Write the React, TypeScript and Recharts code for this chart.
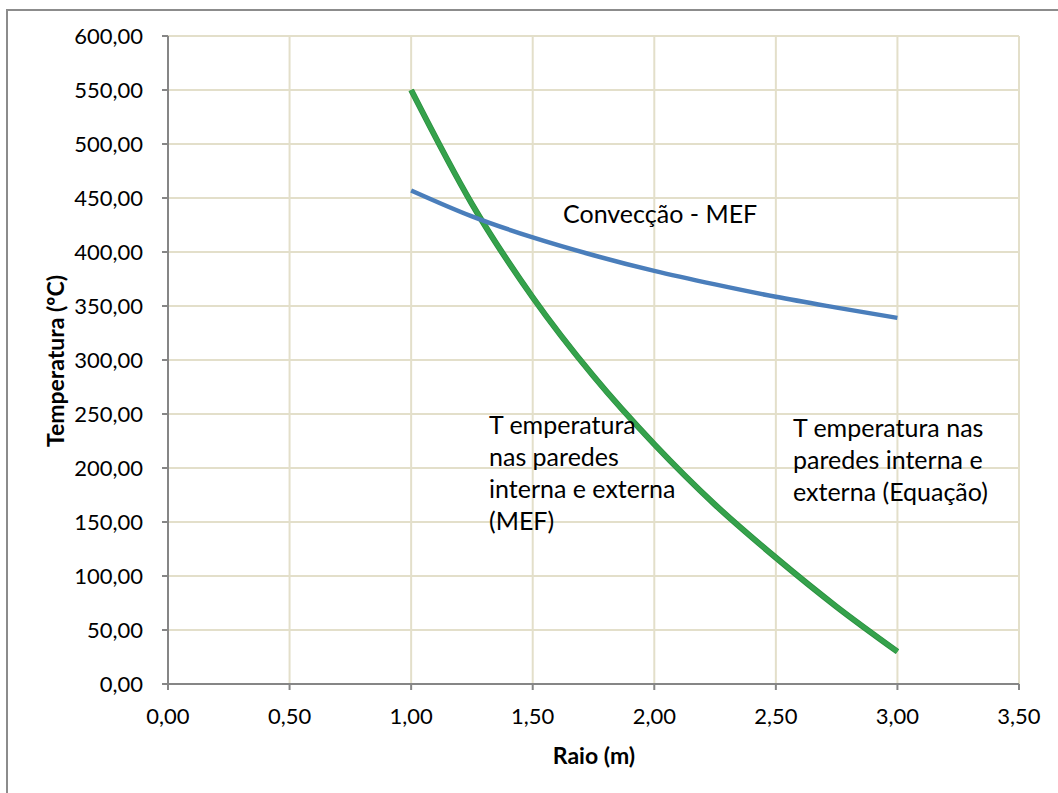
import { LineChart, Line, XAxis, YAxis, CartesianGrid } from 'recharts';

const raio = [1.0, 1.25, 1.5, 1.75, 2.0, 2.25, 2.5, 2.75, 3.0];
const conveccaoMef = [457, 433, 413.5, 397, 382.5, 370, 358.5, 348.5, 339];
const paredesMef = [550, 444.5, 358, 285, 222, 166, 117, 71.5, 30];
const paredesEquacao = [550, 444.5, 358, 285, 222, 166, 117, 71.5, 30];

const xTicks = [0, 0.5, 1, 1.5, 2, 2.5, 3, 3.5];
const yTicks = [0, 50, 100, 150, 200, 250, 300, 350, 400, 450, 500, 550, 600];

const data = raio.map((r, i) => ({
  raio: r,
  conv: conveccaoMef[i],
  mef: paredesMef[i],
  eq: paredesEquacao[i],
}));

const font = 'Lato, "Open Sans", sans-serif';
const fmt = (v: number) => v.toFixed(2).replace('.', ',');

const textStyle: React.CSSProperties = {
  position: 'absolute',
  fontFamily: font,
  fontSize: 25,
  lineHeight: '32px',
  color: '#000',
  whiteSpace: 'nowrap',
};

export default function App() {
  return (
    <div style={{ position: 'absolute', left: 0, top: 0, width: 1058, height: 793, background: '#fff', overflow: 'hidden' }}>
      <div
        style={{
          position: 'absolute',
          left: 6,
          top: 9,
          width: 1100,
          height: 900,
          borderTop: '2px solid #8c8c8c',
          borderLeft: '2px solid #8c8c8c',
        }}
      />
      <LineChart
        width={1058}
        height={793}
        data={data}
        margin={{ top: 36, right: 39, left: 0, bottom: 0 }}
        style={{ position: 'absolute', left: 0, top: 0 }}
      >
        <CartesianGrid stroke="#e3dfca" strokeWidth={2} />
        <XAxis
          type="number"
          dataKey="raio"
          domain={[0, 3.5]}
          ticks={xTicks}
          tickFormatter={fmt}
          height={109}
          stroke="#868686"
          strokeWidth={2}
          tickSize={6}
          tickMargin={18}
          tick={{ fill: '#000', fontFamily: font, fontSize: 22 }}
          interval={0}
        />
        <YAxis
          type="number"
          domain={[0, 600]}
          ticks={yTicks}
          tickFormatter={fmt}
          width={168}
          stroke="#868686"
          strokeWidth={2}
          tickSize={6}
          tickMargin={19}
          tick={{ fill: '#000', fontFamily: font, fontSize: 22 }}
          interval={0}
        />
        <Line dataKey="eq" type="monotone" stroke="#2a8f3e" strokeWidth={6} dot={false} isAnimationActive={false} />
        <Line dataKey="mef" type="monotone" stroke="#35a24c" strokeWidth={4.5} dot={false} isAnimationActive={false} />
        <Line dataKey="conv" type="monotone" stroke="#4a7ebb" strokeWidth={4.5} dot={false} isAnimationActive={false} />
      </LineChart>
      <div style={{ ...textStyle, left: 563, top: 197 }}>Convecção - MEF</div>
      <div style={{ ...textStyle, left: 489, top: 408 }}>
        T emperatura
        <br />
        nas paredes
        <br />
        interna e externa
        <br />
        (MEF)
      </div>
      <div style={{ ...textStyle, left: 793, top: 411 }}>
        T emperatura nas
        <br />
        paredes interna e
        <br />
        externa (Equação)
      </div>
      <div style={{ ...textStyle, left: 594, top: 739, transform: 'translateX(-50%)', fontWeight: 700, fontSize: 23 }}>
        Raio (m)
      </div>
      <div
        style={{
          ...textStyle,
          left: 55,
          top: 361,
          transform: 'translate(-50%, -50%) rotate(-90deg)',
          fontWeight: 700,
          fontSize: 23,
        }}
      >
        Temperatura (ºC)
      </div>
    </div>
  );
}
